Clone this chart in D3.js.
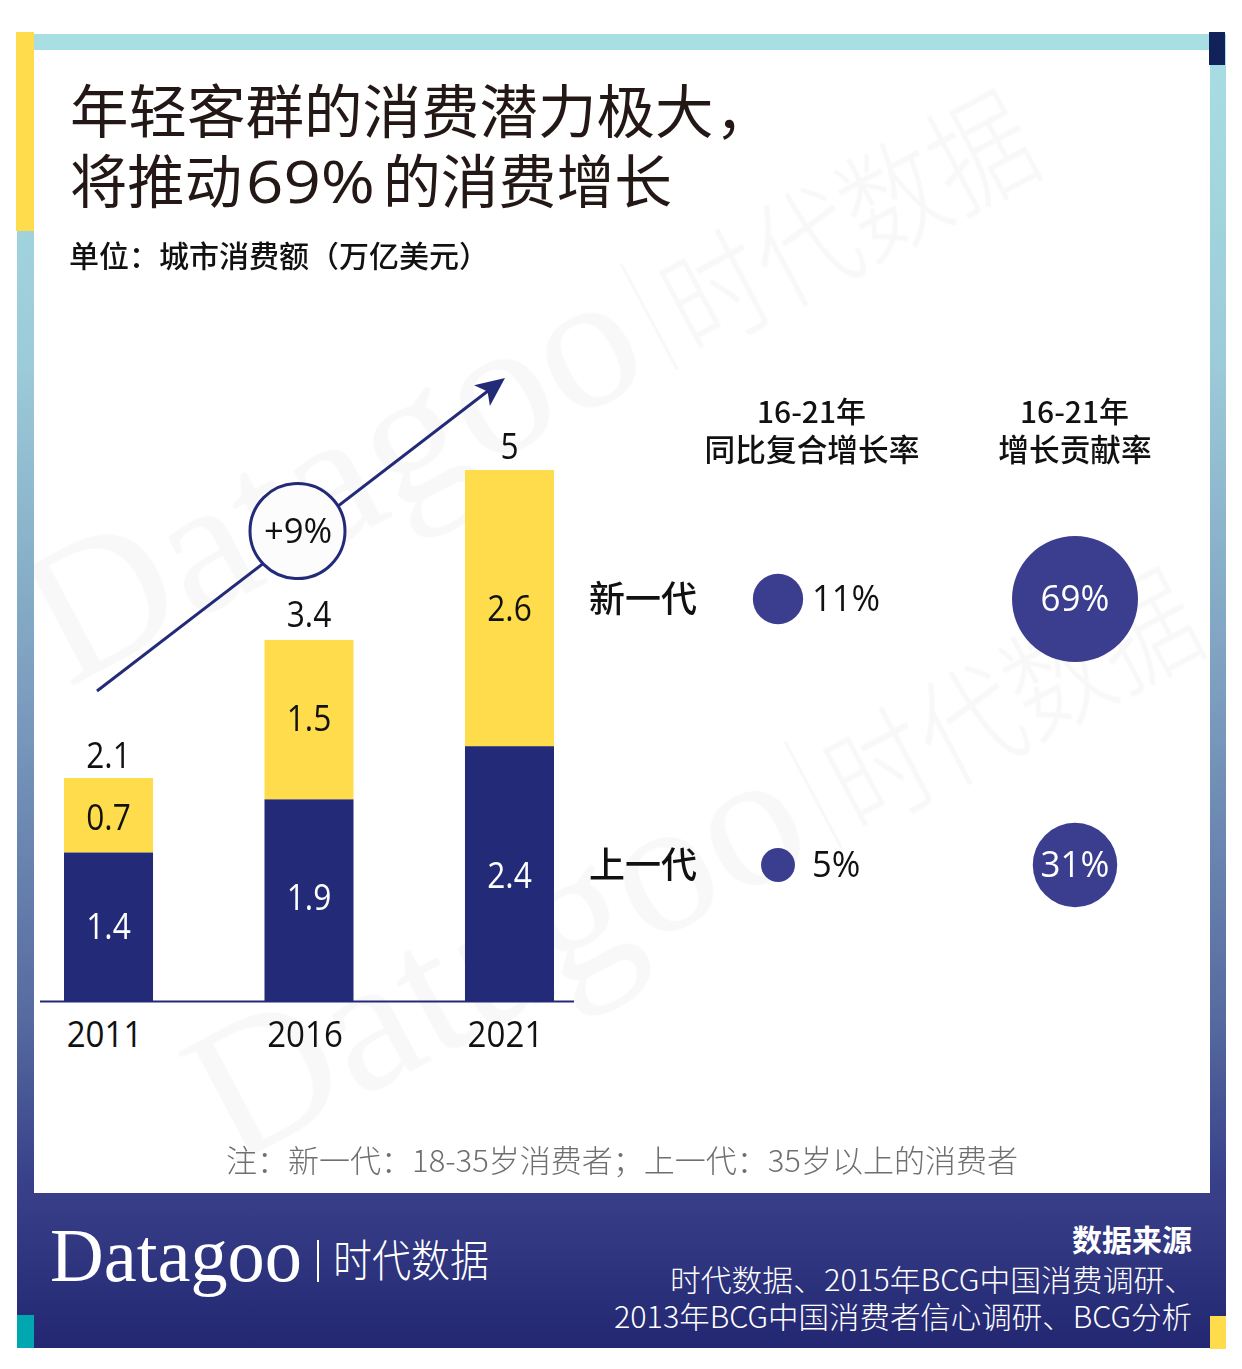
<!DOCTYPE html>
<html><head><meta charset="utf-8">
<script src="https://cdn.jsdelivr.net/npm/d3@7/dist/d3.min.js"></script>
<style>html,body{margin:0;padding:0;background:#fff}svg{display:block}</style>
</head><body>
<svg id="c" width="1242" height="1369"></svg>
<script>
const years=["2011","2016","2021"];
const youngValues=[0.7,1.5,2.6];
const olderValues=[1.4,1.9,2.4];
const totals=["2.1","3.4","5"];
const generations=["新一代","上一代"];
const cagrValues=[11,5];
const shareValues=[69,31];
const unitText="单位：城市消费额（万亿美元）";
const noteText="注：新一代：18-35岁消费者；上一代：35岁以上的消费者";
const sourceLines=["时代数据、2015年BCG中国消费调研、","2013年BCG中国消费者信心调研、BCG分析"];

const CJK='"Noto Sans CJK SC","Noto Sans",sans-serif';
const NUM='"Open Sans","Noto Sans CJK SC",sans-serif';
const navy="#232a78",yellow="#ffdc4b",bubble="#3b3e8e",ink="#231815";
const svg=d3.select("#c");

function label(p,str,x,y,size,o={}){
  const sx=o.sx||1,sy=o.sy||1;
  const t=p.append("text").attr("transform",`translate(${x},${y}) scale(${sx},${sy})`)
    .attr("font-family",o.font||CJK).attr("font-size",size).attr("font-weight",o.weight||400)
    .attr("fill",o.fill||"#111").attr("text-anchor",o.anchor||"start").text(str);
  if(o.len)t.attr("textLength",o.len).attr("lengthAdjust","spacingAndGlyphs");
  return t;
}

const defs=svg.append("defs");
const g1=defs.append("linearGradient").attr("id","frame").attr("x1",0).attr("x2",0).attr("y1",0).attr("y2",1);
[[0,"#a8dfe3"],[0.25,"#9ccbd9"],[0.5,"#7c9ebf"],[0.75,"#566a9f"],[0.87,"#38418a"],[1,"#232a78"]]
 .forEach(d=>g1.append("stop").attr("offset",d[0]).attr("stop-color",d[1]));
const g2=defs.append("linearGradient").attr("id","foot").attr("x1",0).attr("x2",0).attr("y1",0).attr("y2",1);
g2.append("stop").attr("offset",0).attr("stop-color","#383f88");
g2.append("stop").attr("offset",1).attr("stop-color","#232772");
defs.append("clipPath").attr("id","inner").append("rect").attr("x",34).attr("y",50).attr("width",1176).attr("height",1143);

// frame
svg.append("rect").attr("x",17).attr("y",34).attr("width",1209).attr("height",1314).attr("fill","url(#frame)");
svg.append("rect").attr("x",34).attr("y",50).attr("width",1176).attr("height",1144).attr("fill","#fff");
svg.append("rect").attr("x",17).attr("y",1193).attr("width",1209).attr("height",155).attr("fill","url(#foot)");
svg.append("rect").attr("x",16).attr("y",32).attr("width",18).attr("height",199).attr("fill",yellow);
svg.append("rect").attr("x",1209).attr("y",32).attr("width",16).attr("height",33).attr("fill","#11215a");
svg.append("rect").attr("x",17).attr("y",1315).attr("width",17).attr("height",33).attr("fill","#00a7b0");
svg.append("rect").attr("x",1210).attr("y",1316).attr("width",16).attr("height",33).attr("fill",yellow);

// watermark
const wmLayer=svg.append("g").attr("clip-path","url(#inner)");
[[68,688],[232,1166]].forEach(([x,y])=>{
  const w=wmLayer.append("g").attr("transform",`translate(${x},${y}) rotate(-28)`).attr("opacity",0.028);
  label(w,"Datagoo",0,0,190,{font:'"Liberation Serif",serif',fill:"#000",len:665});
  w.append("rect").attr("x",686).attr("y",-115).attr("width",3).attr("height",120).attr("fill","#000");
  label(w,"时代数据",708,0,100,{fill:"#000",weight:300,sy:1.2});
});

// title
const TS=58.5;
label(svg,"年轻客群的消费潜力极大",70,133,TS,{fill:ink});
label(svg,"，",715,133,TS,{fill:ink});
label(svg,"将推动",70,203,TS,{fill:ink,len:172});
label(svg,"69%",246,203,TS,{fill:ink,font:NUM,len:129});
label(svg,"的消费增长",383,203,TS,{fill:ink,len:289});
label(svg,unitText,69,267,29.6,{weight:500,len:420});

// bars
const plot=svg.append("g");
const x=d3.scaleBand().domain(years).range([64,554]).paddingInner(0.556).paddingOuter(0);
const y=d3.scaleLinear().domain([0,5]).range([1001,470]);
const rows=years.map((yr,i)=>({yr,o:olderValues[i],n:youngValues[i],t:totals[i]}));
plot.selectAll("rect.old").data(rows).join("rect").attr("class","old")
  .attr("x",d=>x(d.yr)).attr("width",x.bandwidth()).attr("y",d=>y(d.o)).attr("height",d=>y(0)-y(d.o)).attr("fill",navy);
plot.selectAll("rect.new").data(rows).join("rect").attr("class","new")
  .attr("x",d=>x(d.yr)).attr("width",x.bandwidth()).attr("y",d=>y(d.o+d.n)).attr("height",d=>y(0)-y(d.n)).attr("fill",yellow);
const cx=d=>x(d.yr)+x.bandwidth()/2;
const nudgeOld=[12,10,14],nudgeNew=[15,11,13],nudgeTop=[-10,-13,-11];
rows.forEach((d,i)=>{
  const f={font:NUM,anchor:"middle",sx:.88,weight:500};
  label(plot,d.o.toFixed(1),cx(d),y(d.o/2)+nudgeOld[i],36,{...f,fill:"#fff"});
  label(plot,d.n.toFixed(1),cx(d),y(d.o+d.n/2)+nudgeNew[i],36,{...f,fill:"#111"});
  label(plot,d.t,cx(d),y(d.o+d.n)+nudgeTop[i],36,{...f,fill:"#111"});
});
// axis
const ax=svg.append("g").attr("transform","translate(0,1001)").call(d3.axisBottom(x).tickSize(0).tickPadding(0));
ax.select(".domain").remove();
ax.selectAll(".tick text").attr("font-family",NUM).attr("font-size",36).attr("font-weight",500).attr("fill","#111")
  .attr("text-anchor","middle").attr("dy",0)
  .attr("transform","translate(-4,46) scale(.92,1)").attr("y",0);
svg.append("line").attr("x1",40).attr("x2",574).attr("y1",1001.5).attr("y2",1001.5).attr("stroke",navy).attr("stroke-width",2);

// trend arrow
const ang=Math.atan2(378-691,505-97)*180/Math.PI;
svg.append("line").attr("x1",97).attr("y1",691).attr("x2",497).attr("y2",384).attr("stroke",navy).attr("stroke-width",3);
svg.append("g").attr("transform",`translate(505,378) rotate(${ang})`)
  .append("path").attr("d",d3.line()([[0,0],[-29,-13],[-22,0],[-29,13]])+"Z").attr("fill",navy);
svg.append("circle").attr("cx",297.5).attr("cy",531).attr("r",47.5).attr("fill","#fcfcfd").attr("stroke",navy).attr("stroke-width",3);
label(svg,"+9%",298,543,35,{font:NUM,fill:"#111",anchor:"middle",sx:.99,weight:500});

// bubble columns
const r=d3.scaleSqrt().domain([0,69]).range([0,63]);
const rowY=d3.scalePoint().domain(generations).range([599,865]);
label(svg,"16-21年",757,423,29,{weight:500,font:CJK,len:109});
label(svg,"同比复合增长率",812,461,30.7,{anchor:"middle",weight:500});
label(svg,"16-21年",1020,423,29,{weight:500,font:CJK,len:109});
label(svg,"增长贡献率",1075,461,30.7,{anchor:"middle",weight:500});
generations.forEach((g,i)=>{
  label(svg,g,589,rowY(g)+13,36,{weight:500});
  svg.append("circle").attr("cx",778).attr("cy",rowY(g)).attr("r",r(cagrValues[i])).attr("fill",bubble);
  label(svg,cagrValues[i]+"%",812,rowY(g)+12,36,{font:NUM,sx:.96,weight:500});
  svg.append("circle").attr("cx",1075).attr("cy",rowY(g)).attr("r",r(shareValues[i])).attr("fill",bubble);
  label(svg,shareValues[i]+"%",1075,rowY(g)+12,36,{font:NUM,fill:"#fff",anchor:"middle",sx:.97,weight:500});
});

// note
label(svg,noteText,226,1172,30.5,{fill:"#6f6f6f",weight:300,len:792});

// footer
label(svg,"Datagoo",50,1281,76,{font:'"Liberation Serif",serif',fill:"#fff",len:252});
svg.append("rect").attr("x",317).attr("y",1240).attr("width",2).attr("height",42).attr("fill","#fff");
label(svg,"时代数据",333,1277,39,{fill:"#fff",weight:300,sy:1.15});
label(svg,"数据来源",1192,1251,30,{fill:"#fff",anchor:"end",weight:700});
label(svg,sourceLines[0],670,1291,30,{fill:"#fff",weight:300,len:525});
label(svg,sourceLines[1],614,1328,30,{fill:"#fff",weight:300,len:578});
</script>
</body></html>
